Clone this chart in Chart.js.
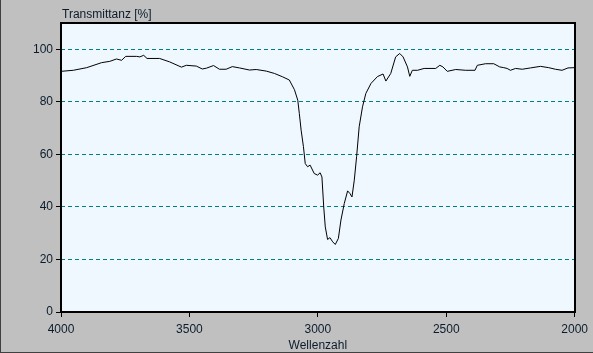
<!DOCTYPE html>
<html><head><meta charset="utf-8">
<script src="https://cdn.jsdelivr.net/npm/chart.js@4/dist/chart.umd.min.js"></script>
<style>html,body{margin:0;padding:0;background:#c0c0c0;}#wrap{width:593px;height:353px;position:relative;}</style>
</head><body><div id="wrap"><canvas id="c" width="593" height="353"></canvas></div>
<script>
const wavenumbers = [4000,3952,3900,3842,3810,3784,3764,3748,3706,3693,3678,3665,3616,3577,3531,3512,3473,3450,3434,3406,3383,3357,3333,3305,3266,3240,3201,3169,3137,3111,3091,3078,3072,3065,3056,3049,3040,3030,3014,3001,2991,2984,2977,2971,2962,2953,2942,2932,2920,2910,2897,2884,2875,2867,2858,2849,2839,2826,2813,2793,2768,2746,2735,2716,2697,2681,2668,2651,2642,2632,2612,2586,2541,2525,2513,2496,2463,2424,2388,2379,2347,2315,2292,2276,2263,2250,2230,2204,2172,2133,2101,2075,2049,2026,2000];
const transmittance = [91.6,92.0,93.0,94.9,95.4,96.3,95.8,97.3,97.3,97.1,97.7,96.5,96.5,95.2,93.2,93.9,93.6,92.5,92.8,93.8,92.4,92.4,93.4,92.9,92.1,92.3,91.7,90.8,89.5,88.3,84.6,80.6,75.5,69.2,62.9,56.5,55.3,55.9,52.7,52.1,53.0,51.4,40.0,32.4,27.6,28.3,26.7,25.7,28.0,35.0,41.3,46.1,45.1,43.8,50.2,59.1,70.5,78.1,83.2,87.0,89.6,90.6,87.9,90.8,97.1,98.4,97.1,93.3,89.7,92.0,92.0,92.7,92.7,93.9,93.3,91.6,92.3,92.0,92.0,93.9,94.5,94.5,93.3,93.0,92.7,92.0,92.7,92.4,92.9,93.5,93.0,92.4,92.0,92.9,93.0];
const yTicks = [0,20,40,60,80,100];
const xTicks = [4000,3500,3000,2500,2000];
const yTitle = 'Transmittanz [%]';
const xTitle = 'Wellenzahl';

const FONT = {family:'"Liberation Sans", Arial, sans-serif', size:12};
const TXT = '#0c1c2c';

const frame = {
  id:'frame',
  beforeDraw(chart){
    const {ctx, chartArea:a, width, height} = chart;
    ctx.save();
    ctx.fillStyle='#c0c0c0'; ctx.fillRect(0,0,width,height);
    ctx.fillStyle='#404040'; ctx.fillRect(0,0,1,height); ctx.fillRect(0,height-1,width,1);
    ctx.fillStyle='#f0f8ff'; ctx.fillRect(a.left,a.top,a.right-a.left,a.bottom-a.top);
    ctx.restore();
  },
  afterDraw(chart){
    const {ctx, chartArea:a} = chart;
    ctx.save();
    ctx.strokeStyle='#000'; ctx.lineWidth=2;
    ctx.strokeRect(Math.round(a.left), Math.round(a.top), Math.round(a.right-a.left), Math.round(a.bottom-a.top));
    ctx.fillStyle=TXT; ctx.font='12px "Liberation Sans", Arial, sans-serif';
    ctx.textBaseline='middle'; ctx.textAlign='left';
    ctx.fillText(yTitle, a.left+1, 15);
    ctx.restore();
  }
};

new Chart(document.getElementById('c'), {
  type:'line',
  data:{datasets:[{
    data: wavenumbers.map((w,i)=>({x:w,y:transmittance[i]})),
    borderColor:'#000', borderWidth:1, pointRadius:0, tension:0, fill:false
  }]},
  options:{
    responsive:false, animation:false, devicePixelRatio:1,
    layout:{padding:{left:0,top:23,right:16,bottom:0}},
    plugins:{legend:{display:false}, tooltip:{enabled:false}},
    scales:{
      x:{type:'linear', reverse:true, min:2000, max:4000,
        afterBuildTicks(s){ s.ticks = xTicks.map(v=>({value:v})); },
        afterFit(s){ s.height = 41; },
        grid:{drawOnChartArea:false, tickLength:5, tickColor:'#000', color:'#000'},
        border:{display:false},
        ticks:{font:FONT, color:TXT, padding:5, maxRotation:0, autoSkip:false, callback:(v)=>String(v)},
        title:{display:true, text:xTitle, font:FONT, color:TXT, padding:{top:0,bottom:0}}
      },
      y:{type:'linear', min:0, max:110,
        afterBuildTicks(s){ s.ticks = yTicks.map(v=>({value:v})); },
        afterFit(s){ s.width = 61; },
        grid:{color:(c)=> c.tick && c.tick.value===0 ? 'rgba(0,0,0,0)' : '#008080',
              tickColor:'#000', tickLength:5, lineWidth:1, tickBorderDash:[]},
        border:{display:false, dash:[4,3]},
        ticks:{font:FONT, color:TXT, padding:3, autoSkip:false, callback:(v)=>String(v)}
      }
    }
  },
  plugins:[frame]
});
</script></body></html>
